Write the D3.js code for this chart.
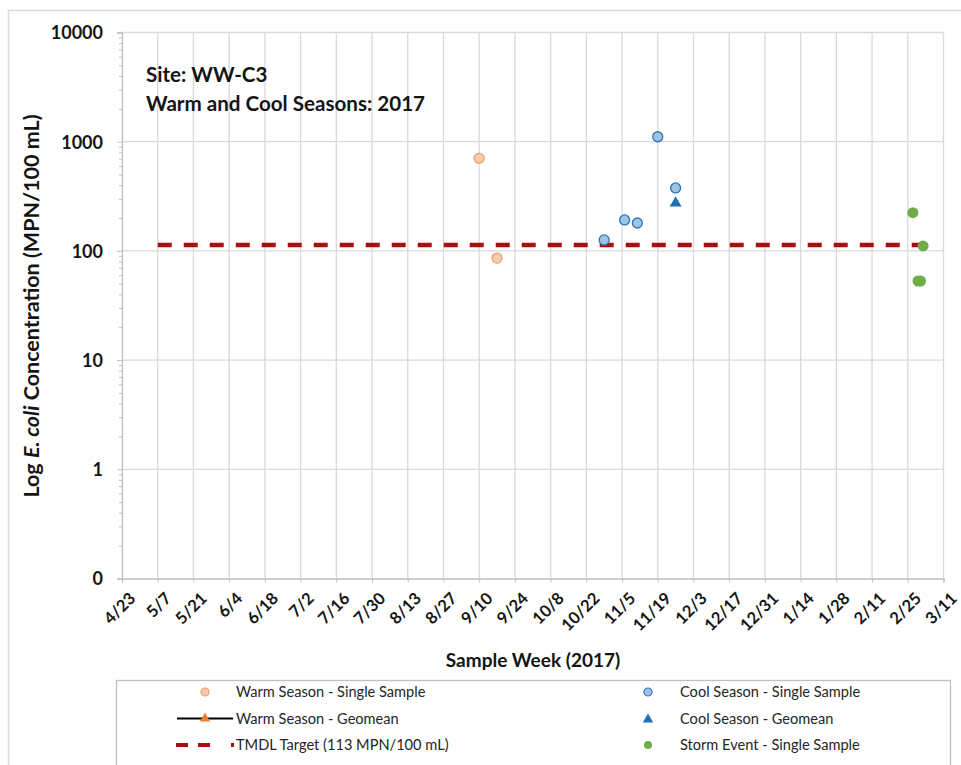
<!DOCTYPE html>
<html><head><meta charset="utf-8">
<script src="https://cdn.jsdelivr.net/npm/d3@7"></script>
<style>
body{margin:0;background:#fff}
text{font-family:Lato,"Open Sans",sans-serif}
</style>
</head><body>
<svg id="c" width="961" height="765"></svg>
<script>
// ---- data ----
const tickDates = ["2017-04-23","2017-05-07","2017-05-21","2017-06-04","2017-06-18","2017-07-02","2017-07-16","2017-07-30","2017-08-13","2017-08-27","2017-09-10","2017-09-24","2017-10-08","2017-10-22","2017-11-05","2017-11-19","2017-12-03","2017-12-17","2017-12-31","2018-01-14","2018-01-28","2018-02-11","2018-02-25","2018-03-11"];
const tickLabels = ["4/23","5/7","5/21","6/4","6/18","7/2","7/16","7/30","8/13","8/27","9/10","9/24","10/8","10/22","11/5","11/19","12/3","12/17","12/31","1/14","1/28","2/11","2/25","3/11"];
const yTickValues = [0.1,1,10,100,1000,10000];
const yTickLabels = ["0","1","10","100","1000","10000"];

const warmDates = ["2017-09-10","2017-09-17"];
const warmValues = [705, 86];
const coolDates = ["2017-10-29","2017-11-06","2017-11-11","2017-11-19","2017-11-26"];
const coolValues = [126, 192, 180, 1110, 377];
const coolGeoDates = ["2017-11-26"];
const coolGeoValues = [280];
const stormDates = ["2018-02-27","2018-03-01","2018-03-02","2018-03-03"];
const stormValues = [224, 53, 53, 111];
const tmdlDates = ["2017-05-07","2018-03-03"];
const tmdlValues = [113, 113];

const legendLabels = ["Warm Season - Single Sample","Cool Season - Single Sample","Warm Season - Geomean","Cool Season - Geomean","TMDL Target (113 MPN/100 mL)","Storm Event - Single Sample"];

// ---- setup ----
const parse = d3.timeParse("%Y-%m-%d");
const svg = d3.select("#c");
const L = 122, R = 943.5, T = 32.5, B = 578.5;
const x = d3.scaleTime().domain([parse("2017-04-23"), parse("2018-03-11")]).range([L, R]);
const y = d3.scaleLog().domain([0.1, 10000]).range([B, T]);
const grid = "#d9d9d9", axisC = "#bfbfbf", ink = "#141414";

// chart area border
svg.append("path").attr("d", "M8.5,800 V10.5 H970").attr("fill","none").attr("stroke","#d9d9d9").attr("stroke-width",1.5);

// gridlines
svg.append("g").selectAll("line").data(tickDates.slice(1)).join("line")
  .attr("x1", d => x(parse(d))).attr("x2", d => x(parse(d)))
  .attr("y1", T).attr("y2", B).attr("stroke", grid).attr("stroke-width", 1.3);
svg.append("g").selectAll("line").data(yTickValues.slice(1)).join("line")
  .attr("x1", L).attr("x2", R).attr("y1", d => y(d)).attr("y2", d => y(d))
  .attr("stroke", grid).attr("stroke-width", 1.3);

// minor y ticks
const minor = [];
for (let e = -1; e < 4; e++) for (let m = 2; m <= 9; m++) minor.push(m * Math.pow(10, e));
const yMinor = svg.append("g").attr("transform", `translate(${L},0)`)
  .call(d3.axisLeft(y).tickValues(minor).tickSize(3).tickFormat(""));
yMinor.select(".domain").remove();
yMinor.selectAll("line").attr("stroke", axisC);

// y axis
const yAx = svg.append("g").attr("transform", `translate(${L},0)`)
  .call(d3.axisLeft(y).tickValues(yTickValues).tickFormat((d,i) => yTickLabels[i]).tickSize(5).tickPadding(14));
yAx.select(".domain").attr("stroke", axisC).attr("stroke-width", 1.3);
yAx.selectAll("line").attr("stroke", axisC);
yAx.selectAll("text").attr("font-family","Lato").attr("font-weight","bold").attr("font-size",18).attr("fill",ink).attr("dy","0.36em");

// x axis
const xAx = svg.append("g").attr("transform", `translate(0,${B})`)
  .call(d3.axisBottom(x).tickValues(tickDates.map(parse)).tickFormat((d,i) => tickLabels[i]).tickSize(4));
xAx.select(".domain").attr("stroke", axisC).attr("stroke-width", 1.3);
xAx.selectAll("line").attr("stroke", axisC);
xAx.selectAll("text").attr("font-family","Lato").attr("font-weight","bold").attr("font-size",16.5).attr("fill",ink)
  .attr("x",0).attr("y",0).attr("dy",0)
  .attr("transform","translate(14,21) rotate(-45)").style("text-anchor","end");

// axis titles
svg.append("text").attr("x", 533).attr("y", 667).attr("text-anchor","middle")
  .attr("font-weight","bold").attr("font-size",19).attr("fill",ink).text("Sample Week (2017)");
const yt = svg.append("text").attr("transform","translate(39,306) rotate(-90)").attr("text-anchor","middle")
  .attr("font-weight","bold").attr("font-size",21.5).attr("fill",ink);
yt.append("tspan").text("Log ");
yt.append("tspan").attr("font-style","italic").text("E. coli");
yt.append("tspan").text(" Concentration (MPN/100 mL)");

// annotations
svg.append("text").attr("x",146).attr("y",82).attr("font-weight","bold").attr("font-size",20.6).attr("fill",ink).text("Site: WW-C3");
svg.append("text").attr("x",146).attr("y",111).attr("font-weight","bold").attr("font-size",20.6).attr("fill",ink).text("Warm and Cool Seasons: 2017");

// TMDL line
const tmdl = tmdlDates.map((d,i) => ({d: parse(d), v: tmdlValues[i]}));
svg.append("path").datum(tmdl)
  .attr("d", d3.line().x(p => x(p.d)).y(p => y(p.v)))
  .attr("fill","none").attr("stroke","#a80f0f").attr("stroke-width",4.5).attr("stroke-dasharray","14,12");

// markers
const zip = (ds, vs) => ds.map((d,i) => ({d: parse(d), v: vs[i]}));
const warmFill = "#f8cbad", warmStroke = "#ee9e6a";
const coolFill = "#9dc3e6", coolStroke = "#2e75b6";
const triColor = "#1f6fb4", stormColor = "#70ad47";

svg.append("g").selectAll("circle").data(zip(warmDates, warmValues)).join("circle")
  .attr("cx", p => x(p.d)).attr("cy", p => y(p.v)).attr("r", 5)
  .attr("fill", warmFill).attr("stroke", warmStroke).attr("stroke-width", 1.3);
svg.append("g").selectAll("circle").data(zip(coolDates, coolValues)).join("circle")
  .attr("cx", p => x(p.d)).attr("cy", p => y(p.v)).attr("r", 5)
  .attr("fill", coolFill).attr("stroke", coolStroke).attr("stroke-width", 1.3);
const tri = d3.symbol().type(d3.symbolTriangle).size(62);
svg.append("g").selectAll("path").data(zip(coolGeoDates, coolGeoValues)).join("path")
  .attr("transform", p => `translate(${x(p.d)},${y(p.v)+1})`).attr("d", tri).attr("fill", triColor);
svg.append("g").selectAll("circle").data(zip(stormDates, stormValues)).join("circle")
  .attr("cx", p => x(p.d)).attr("cy", p => y(p.v)).attr("r", 5.5).attr("fill", stormColor);

// legend
svg.append("rect").attr("x",116.5).attr("y",680.5).attr("width",834).attr("height",120)
  .attr("fill","#fff").attr("stroke","#bfbfbf").attr("stroke-width",1.3);
const rows = [692, 718.5, 745];
const col = [{m:205, t:236}, {m:648, t:680}];
const lg = svg.append("g").attr("font-size",14.6).attr("fill","#262626");
legendLabels.forEach((lab, i) => {
  const c = col[i % 2], ry = rows[Math.floor(i/2)];
  const g = lg.append("g");
  if (i === 0) g.append("circle").attr("cx",c.m).attr("cy",ry).attr("r",4).attr("fill",warmFill).attr("stroke",warmStroke).attr("stroke-width",1.2);
  if (i === 1) g.append("circle").attr("cx",c.m).attr("cy",ry).attr("r",4).attr("fill",coolFill).attr("stroke",coolStroke).attr("stroke-width",1.2);
  if (i === 2) {
    g.append("line").attr("x1",c.m-28).attr("x2",c.m+28).attr("y1",ry).attr("y2",ry).attr("stroke","#000").attr("stroke-width",2.2);
    g.append("path").attr("transform",`translate(${c.m},${ry})`).attr("d",d3.symbol().type(d3.symbolTriangle).size(45)).attr("fill","#ed7d31");
  }
  if (i === 3) g.append("path").attr("transform",`translate(${c.m},${ry+1})`).attr("d",d3.symbol().type(d3.symbolTriangle).size(45)).attr("fill",triColor);
  if (i === 4) {
    g.append("line").attr("x1",c.m-29).attr("x2",c.m+29).attr("y1",ry).attr("y2",ry).attr("stroke","#a80f0f").attr("stroke-width",4).attr("stroke-dasharray","12,10,12,21,3,20");
  }
  if (i === 5) g.append("circle").attr("cx",c.m).attr("cy",ry).attr("r",4).attr("fill",stormColor);
  g.append("text").attr("x",c.t).attr("y",ry).attr("dy","0.35em").text(lab);
});
</script>
</body></html>
